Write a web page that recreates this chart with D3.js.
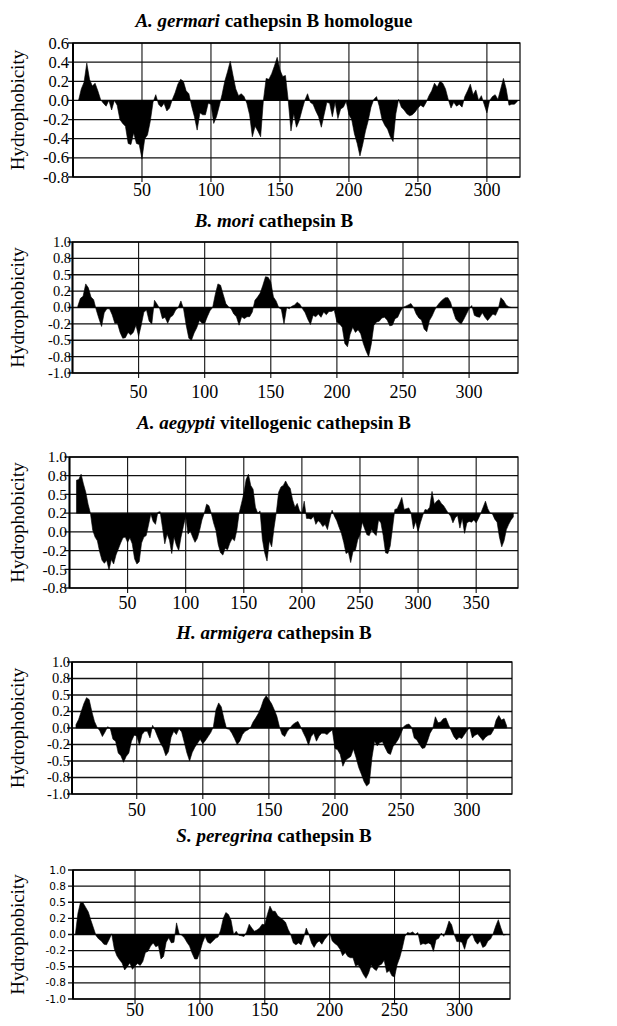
<!DOCTYPE html>
<html>
<head>
<meta charset="utf-8">
<script src="https://cdn.jsdelivr.net/npm/d3@7"></script>
<style>
  body { margin: 0; background: #fff; }
  text { font-family: "Liberation Serif", "Times New Roman", serif; fill: #000; }
</style>
</head>
<body>
<div id="chart"></div>
<script>
// hydrophobicity profiles, one value every STEP residues starting at firstResidue
var STEP = 2;
var firstResidue = [4, 4, 6, 4, 4];

var germariValues = [0.00,0.12,0.19,0.39,0.22,0.15,0.18,0.10,0.01,-0.03,
  -0.06,0.00,-0.10,0.00,-0.05,-0.20,-0.24,-0.27,-0.45,-0.46,
  -0.34,-0.45,-0.46,-0.61,-0.40,-0.36,-0.22,-0.02,0.06,-0.04,
  -0.07,-0.03,-0.11,-0.08,0.01,0.08,0.17,0.22,0.20,0.10,
  0.07,-0.06,-0.17,-0.31,-0.13,-0.15,-0.15,-0.03,-0.04,-0.24,
  -0.17,-0.06,0.06,0.20,0.30,0.41,0.26,0.12,0.05,0.07,
  0.04,-0.03,-0.15,-0.38,-0.27,-0.32,-0.38,0.00,0.23,0.22,
  0.28,0.36,0.45,0.32,0.25,0.26,0.00,-0.32,-0.14,-0.28,
  -0.21,-0.10,0.00,0.07,-0.02,-0.04,-0.11,-0.17,-0.28,-0.15,
  -0.02,-0.03,-0.17,-0.02,-0.19,-0.09,-0.07,-0.01,-0.15,-0.20,
  -0.35,-0.45,-0.58,-0.46,-0.32,-0.21,-0.07,0.01,0.04,-0.06,
  -0.20,-0.26,-0.30,-0.38,-0.43,-0.14,0.01,-0.07,-0.10,-0.14,
  -0.16,-0.15,-0.12,-0.08,-0.05,-0.07,-0.02,0.05,0.10,0.18,
  0.14,0.20,0.18,0.12,0.01,-0.08,-0.02,-0.06,-0.04,-0.07,
  0.04,0.10,0.17,0.06,0.11,0.00,0.05,-0.04,-0.13,0.00,
  0.04,0.06,0.01,0.12,0.23,0.12,-0.05,-0.04,-0.04,-0.01];

var moriValues = [0.02,0.14,0.17,0.36,0.30,0.16,0.12,-0.04,-0.17,-0.29,
  -0.08,-0.02,-0.02,-0.11,-0.24,-0.24,-0.38,-0.47,-0.46,-0.38,
  -0.42,-0.38,-0.27,-0.44,-0.27,-0.07,-0.04,-0.21,-0.25,0.11,
  0.05,-0.02,-0.17,-0.15,-0.24,-0.15,-0.12,-0.04,0.00,0.10,
  -0.02,-0.27,-0.47,-0.50,-0.39,-0.31,-0.20,-0.24,-0.24,-0.14,
  -0.05,0.00,0.20,0.36,0.34,0.20,0.06,0.01,-0.02,-0.10,
  -0.14,-0.27,-0.14,-0.17,-0.14,-0.14,-0.07,0.11,0.16,0.22,
  0.34,0.47,0.46,0.39,0.16,0.10,0.00,-0.03,-0.25,0.00,
  -0.02,0.02,0.04,0.08,0.05,-0.02,-0.08,-0.18,-0.26,-0.12,
  -0.14,-0.10,-0.15,-0.07,-0.11,-0.06,-0.06,-0.04,-0.22,-0.25,
  -0.30,-0.55,-0.60,-0.41,-0.30,-0.38,-0.34,-0.40,-0.55,-0.66,
  -0.75,-0.56,-0.27,-0.22,-0.21,-0.16,-0.15,-0.19,-0.28,-0.27,
  -0.17,-0.15,-0.06,0.00,0.02,0.04,0.06,0.00,-0.10,-0.16,
  -0.19,-0.33,-0.37,-0.20,-0.13,-0.04,0.03,0.08,0.12,0.15,
  0.15,0.08,-0.06,-0.18,-0.22,-0.25,-0.18,-0.10,-0.02,0.03,
  -0.12,-0.14,-0.15,-0.08,-0.15,-0.20,-0.15,-0.10,-0.12,-0.03,
  0.15,0.11,0.04,0.01,0.00];

var aegyptiValues = [0.69,0.70,0.77,0.64,0.53,0.37,0.25,0.02,-0.07,-0.12,
  -0.27,-0.38,-0.42,-0.38,-0.51,-0.37,-0.43,-0.31,-0.23,-0.15,
  -0.08,-0.07,-0.14,-0.08,-0.16,-0.36,-0.43,-0.40,-0.15,-0.07,
  -0.05,0.09,0.24,0.14,0.10,0.26,0.27,0.06,-0.16,-0.03,
  -0.11,-0.29,-0.07,-0.18,-0.25,-0.07,0.07,0.21,-0.03,0.01,
  -0.07,-0.14,-0.09,0.02,0.16,0.25,0.37,0.35,0.25,0.12,
  0.02,-0.17,-0.28,-0.31,-0.22,-0.24,-0.15,-0.09,-0.12,0.02,
  0.25,0.38,0.51,0.70,0.77,0.62,0.57,0.33,0.25,0.28,
  -0.10,-0.28,-0.39,-0.12,-0.20,0.05,0.26,0.53,0.60,0.62,
  0.68,0.62,0.58,0.43,0.33,0.38,0.28,0.25,0.41,0.18,
  0.18,0.17,0.21,0.10,0.15,0.12,0.07,0.10,0.03,0.17,
  0.29,0.21,0.15,0.06,-0.02,-0.14,-0.29,-0.27,-0.41,-0.26,
  -0.25,-0.11,-0.04,0.13,0.04,-0.04,-0.05,0.03,-0.02,-0.05,
  0.16,0.12,-0.05,-0.28,-0.29,-0.19,0.05,0.30,0.31,0.38,
  0.46,0.30,0.31,0.32,0.25,0.04,0.14,0.00,0.12,0.22,
  0.30,0.29,0.33,0.54,0.37,0.41,0.43,0.38,0.35,0.30,
  0.25,0.21,0.12,0.19,0.22,0.05,0.18,-0.02,0.12,0.14,
  0.13,0.16,0.12,0.18,0.25,0.33,0.41,0.31,0.25,0.24,
  0.17,0.13,-0.07,-0.20,-0.12,0.03,0.10,0.16,0.20];

var armigeraValues = [0.05,0.13,0.25,0.37,0.46,0.43,0.25,0.10,0.01,-0.04,
  -0.13,-0.06,0.02,-0.01,-0.17,-0.20,-0.38,-0.42,-0.52,-0.43,
  -0.38,-0.20,-0.11,-0.12,-0.26,-0.10,-0.05,-0.05,-0.15,0.04,
  -0.04,-0.14,-0.23,-0.30,-0.42,-0.36,-0.14,-0.05,-0.10,-0.01,
  -0.06,-0.22,-0.38,-0.50,-0.37,-0.29,-0.23,-0.17,-0.24,-0.19,
  -0.13,-0.07,0.02,0.28,0.38,0.32,0.14,-0.01,-0.02,-0.08,
  -0.16,-0.25,-0.20,-0.10,-0.05,-0.03,0.00,0.09,0.15,0.22,
  0.31,0.43,0.49,0.43,0.37,0.28,0.18,0.02,-0.10,-0.13,
  -0.05,0.00,0.05,0.08,0.10,0.02,-0.07,-0.15,-0.26,-0.13,
  -0.08,-0.20,-0.12,-0.08,-0.08,-0.10,-0.06,-0.03,-0.31,-0.33,
  -0.40,-0.58,-0.49,-0.46,-0.43,-0.32,-0.45,-0.60,-0.70,-0.81,
  -0.88,-0.84,-0.45,-0.20,-0.27,-0.22,-0.21,-0.30,-0.38,-0.40,
  -0.28,-0.23,-0.17,-0.08,0.02,0.05,0.06,0.01,-0.15,-0.18,
  -0.25,-0.31,-0.30,-0.20,-0.08,-0.01,0.17,0.08,0.09,0.14,
  0.15,0.05,-0.04,-0.13,-0.18,-0.14,-0.16,-0.10,-0.04,0.01,
  -0.15,-0.11,-0.09,-0.14,-0.19,-0.14,-0.11,-0.10,-0.03,0.12,
  0.19,0.12,0.14,0.03];

var peregrinaValues = [0.00,0.33,0.50,0.49,0.42,0.35,0.22,0.10,-0.02,-0.07,
  -0.10,-0.15,-0.16,-0.08,0.01,-0.22,-0.33,-0.39,-0.44,-0.55,
  -0.50,-0.44,-0.54,-0.49,-0.45,-0.48,-0.42,-0.28,-0.26,-0.18,
  -0.13,-0.19,-0.17,-0.38,-0.34,-0.12,-0.05,-0.13,-0.12,0.18,
  0.01,-0.01,-0.05,-0.12,-0.18,-0.29,-0.38,-0.38,-0.27,-0.13,
  -0.03,-0.12,-0.14,-0.10,-0.06,-0.04,0.07,0.25,0.34,0.31,
  0.22,0.00,0.05,-0.01,-0.02,-0.03,0.04,0.16,0.10,0.05,
  0.07,0.10,0.16,0.15,0.31,0.44,0.36,0.36,0.29,0.26,
  0.23,0.19,0.08,0.00,-0.13,-0.16,-0.13,-0.16,-0.05,0.10,
  0.00,-0.13,-0.20,-0.13,-0.10,-0.15,-0.08,-0.03,0.03,-0.10,
  -0.14,-0.17,-0.23,-0.33,-0.28,-0.34,-0.36,-0.36,-0.49,-0.47,
  -0.54,-0.62,-0.68,-0.60,-0.47,-0.53,-0.56,-0.48,-0.46,-0.40,
  -0.59,-0.56,-0.64,-0.66,-0.47,-0.36,-0.21,-0.03,0.03,0.02,
  0.04,0.00,0.03,-0.16,-0.14,-0.15,-0.13,-0.15,-0.26,-0.08,
  -0.06,0.02,-0.03,0.08,0.21,0.15,0.00,-0.11,-0.11,-0.12,
  -0.23,-0.08,-0.03,0.01,-0.10,-0.15,-0.10,-0.20,-0.18,-0.10,
  -0.07,0.01,0.13,0.23,0.10,-0.01,0.00];

// titles
var species = ["A. germari", "B. mori", "A. aegypti", "H. armigera", "S. peregrina"];
var titleRest = [" cathepsin B homologue", " cathepsin B", " vitellogenic cathepsin B", " cathepsin B", " cathepsin B"];

// axes
var xTicks = [50, 100, 150, 200, 250, 300];
var xTicksAegypti = [50, 100, 150, 200, 250, 300, 350];
var yTicksGermari = [0.6, 0.4, 0.2, 0, -0.2, -0.4, -0.6, -0.8];
var yLabelsGermari = ["0.6", "0.4", "0.2", "0.0", "-0.2", "-0.4", "-0.6", "-0.8"];
var yTicksQuarter = [1, 0.75, 0.5, 0.25, 0, -0.25, -0.5, -0.75, -1];
var yLabelsQuarter = ["1.0", "0.8", "0.5", "0.2", "0.0", "-0.2", "-0.5", "-0.8", "-1.0"];
var yTicksAegypti = [1, 0.75, 0.5, 0.25, 0, -0.25, -0.5, -0.75];
var yLabelsAegypti = ["1.0", "0.8", "0.5", "0.2", "0.0", "-0.2", "-0.5", "-0.8"];
var baselines = [0, 0, 0.25, 0, 0];
var xMin = [0, 0, 0, 1, 2.2];
var xMax = [324, 337, 386, 334, 339];

// build the panel table
var allValues = [germariValues, moriValues, aegyptiValues, armigeraValues, peregrinaValues];
var allYTicks = [yTicksGermari, yTicksQuarter, yTicksAegypti, yTicksQuarter, yTicksQuarter];
var allYLabels = [yLabelsGermari, yLabelsQuarter, yLabelsAegypti, yLabelsQuarter, yLabelsQuarter];
var allXTicks = [xTicks, xTicks, xTicksAegypti, xTicks, xTicks];

// page geometry of each panel
var layout = [
  {left: 73, right: 520, top: 43, bottom: 177, titleY: 27, xLabelY: 196, yLabelX: 69, yFont: "16.5px", yFamily: null},
  {left: 72.5, right: 518, top: 242, bottom: 373, titleY: 227, xLabelY: 398, yLabelX: 71, yFont: "14.5px", yFamily: null},
  {left: 69.5, right: 518, top: 457, bottom: 588, titleY: 429, xLabelY: 609, yLabelX: 67, yFont: "15.5px", yFamily: null},
  {left: 72, right: 512, top: 662, bottom: 794, titleY: 639, xLabelY: 816, yLabelX: 70, yFont: "14.5px", yFamily: null},
  {left: 73, right: 510, top: 870, bottom: 999, titleY: 842, xLabelY: 1016, yLabelX: 66, yFont: "10.5px", yFamily: "'DejaVu Sans', sans-serif"}
];

var svg = d3.select("#chart")
  .append("svg")
    .attr("width", 617)
    .attr("height", 1026);

svg.append("rect").attr("width", 617).attr("height", 1026).attr("fill", "#fff");

layout.forEach(function(p, i) {
  var data = allValues[i].map(function(v, k) {
    return {r: firstResidue[i] + k * STEP, v: v};
  });
  var yTicks = allYTicks[i];

  var x = d3.scaleLinear()
    .domain([xMin[i], xMax[i]])
    .range([p.left, p.right]);
  var y = d3.scaleLinear()
    .domain([d3.min(yTicks), d3.max(yTicks)])
    .range([p.bottom, p.top]);

  var g = svg.append("g");

  // title
  var title = g.append("text")
    .attr("x", 274)
    .attr("y", p.titleY)
    .attr("text-anchor", "middle")
    .style("font-size", "19px")
    .style("font-weight", "bold");
  title.append("tspan").style("font-style", "italic").text(species[i]);
  title.append("tspan").text(titleRest[i]);

  // horizontal grid
  g.append("g")
    .selectAll("line")
    .data(yTicks)
    .enter()
    .append("line")
      .attr("x1", p.left - 5)
      .attr("x2", p.right)
      .attr("y1", function(d) { return y(d); })
      .attr("y2", function(d) { return y(d); })
      .attr("stroke", "#111")
      .attr("stroke-width", 1.3);

  // vertical grid + bottom ticks
  g.append("g")
    .selectAll("line")
    .data(allXTicks[i])
    .enter()
    .append("line")
      .attr("x1", function(d) { return x(d); })
      .attr("x2", function(d) { return x(d); })
      .attr("y1", p.top)
      .attr("y2", p.bottom + 5)
      .attr("stroke", "#111")
      .attr("stroke-width", 1.1);

  // hydrophobicity area against the baseline
  var area = d3.area()
    .x(function(d) { return x(d.r); })
    .y0(y(baselines[i]))
    .y1(function(d) { return y(d.v); });

  g.append("path")
    .datum(data)
    .attr("d", area)
    .attr("fill", "#000")
    .attr("stroke", "#000")
    .attr("stroke-width", 0.6);

  // frame
  g.append("rect")
    .attr("x", p.left)
    .attr("y", p.top)
    .attr("width", p.right - p.left)
    .attr("height", p.bottom - p.top)
    .attr("fill", "none")
    .attr("stroke", "#000")
    .attr("stroke-width", 1.2);
  g.append("line")
    .attr("x1", p.left).attr("x2", p.left)
    .attr("y1", p.top).attr("y2", p.bottom)
    .attr("stroke", "#000")
    .attr("stroke-width", 2);

  // y tick labels
  g.append("g")
    .selectAll("text")
    .data(yTicks)
    .enter()
    .append("text")
      .attr("x", p.yLabelX)
      .attr("y", function(d) { return y(d); })
      .attr("dy", "0.34em")
      .attr("text-anchor", "end")
      .style("font-size", p.yFont)
      .style("font-family", p.yFamily)
      .text(function(d, k) { return allYLabels[i][k]; });

  // x tick labels
  g.append("g")
    .selectAll("text")
    .data(allXTicks[i])
    .enter()
    .append("text")
      .attr("x", function(d) { return x(d); })
      .attr("y", p.xLabelY)
      .attr("text-anchor", "middle")
      .style("font-size", "18px")
      .text(function(d) { return d; });

  // y axis title
  g.append("text")
    .attr("transform", "translate(24," + ((p.top + p.bottom) / 2) + ") rotate(-90)")
    .attr("text-anchor", "middle")
    .style("font-size", "19px")
    .text("Hydrophobicity");
});
</script>
</body>
</html>
